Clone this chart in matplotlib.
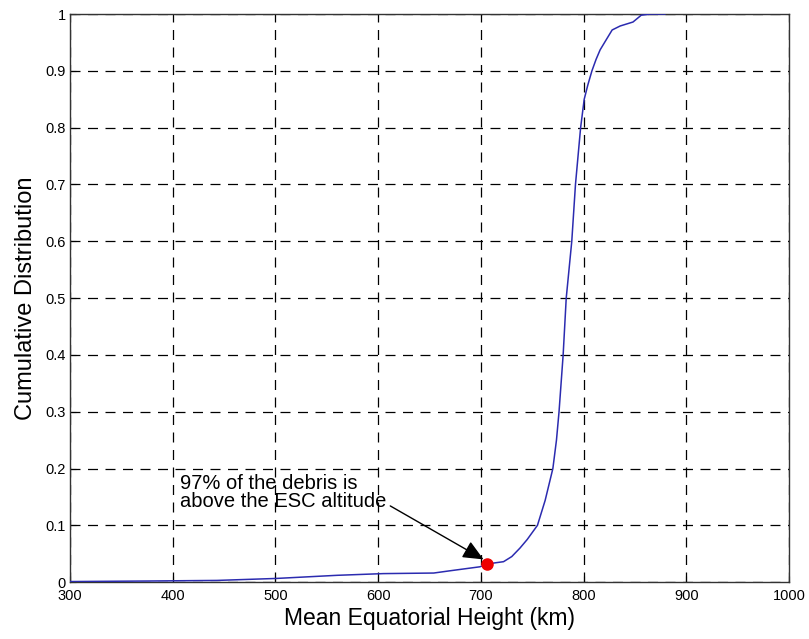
import numpy as np
import matplotlib
matplotlib.use("Agg")
import matplotlib.pyplot as plt

plt.rcParams['font.family'] = ['Liberation Sans', 'DejaVu Sans']

# cumulative distribution of debris mean equatorial height
height_km = [300, 378, 443, 501, 560, 605, 654, 670, 699, 706, 722, 730, 738, 745,
             751, 755, 762.5, 770, 773.5, 776, 780, 783, 788.4, 792, 797, 800.5,
             804, 808, 812, 816, 822, 827.7, 835.5, 848, 856, 865, 879]
cum_dist = [0.001, 0.002, 0.003, 0.0065, 0.012, 0.015, 0.016, 0.02, 0.027, 0.032,
            0.036, 0.045, 0.06, 0.075, 0.09, 0.1, 0.144, 0.2, 0.25, 0.3, 0.4, 0.5,
            0.6, 0.7, 0.8, 0.85, 0.875, 0.9, 0.92, 0.937, 0.955, 0.972, 0.979,
            0.986, 0.998, 1.0, 1.0]

esc_height = 706
esc_cdf = 0.032

x_ticks = [300, 400, 500, 600, 700, 800, 900, 1000]
y_ticks = [0, 0.1, 0.2, 0.3, 0.4, 0.5, 0.6, 0.7, 0.8, 0.9, 1]
y_labels = ["0", "0.1", "0.2", "0.3", "0.4", "0.5", "0.6", "0.7", "0.8", "0.9", "1"]

fig = plt.figure(figsize=(8.09, 6.39), dpi=100)
ax = fig.add_axes([0.0865, 0.089, 0.889, 0.889])

ax.plot(height_km, cum_dist, color="#2b2bb0", lw=1.1, zorder=3)
ax.plot(esc_height, esc_cdf, "o", color="#ee0000", mec="#ee0000", ms=8, zorder=4)

ax.set_xlim(300, 1000)
ax.set_ylim(0, 1)
ax.set_xticks(x_ticks)
ax.set_yticks(y_ticks)
ax.set_yticklabels(y_labels)
ax.tick_params(direction="in", labelsize=10.5, length=4, pad=3)
ax.tick_params(axis="x", pad=5)
ax.grid(color="black", linestyle=(0, (8, 6)), linewidth=0.9)
for s in ax.spines.values():
    s.set_linewidth(1.0)
    s.set_color("#333333")

ax.set_xlabel("Mean Equatorial Height (km)", fontsize=16.5, labelpad=3)
ax.set_ylabel("Cumulative Distribution", fontsize=17, labelpad=6)

ax.annotate("97% of the debris is\nabove the ESC altitude",
            xy=(esc_height - 3.5, esc_cdf + 0.008), xytext=(407, 0.19),
            xycoords="data", textcoords="data", fontsize=14.5,
            va="top", ha="left", linespacing=0.92,
            arrowprops=dict(arrowstyle="-|>,head_length=0.9,head_width=0.4",
                            color="black", lw=1.0, mutation_scale=14,
                            relpos=(1.0, 0.2), shrinkA=1, shrinkB=0))

fig.savefig("out.png", dpi=100)
